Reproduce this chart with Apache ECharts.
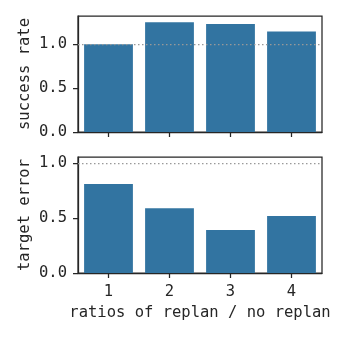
<!DOCTYPE html>
<html>
<head>
<meta charset="utf-8">
<script src="https://cdn.jsdelivr.net/npm/echarts@6/dist/echarts.min.js"></script>
<style>
  html, body { margin: 0; padding: 0; background: #fff; }
  #chart { width: 339px; height: 339px; }
</style>
</head>
<body>
<div id="chart"></div>
<script>
// 数据
const categories = ['1', '2', '3', '4']
const successRate = [0.995, 1.243, 1.224, 1.14]
const targetError = [0.81, 0.59, 0.39, 0.518]
const yTicks = [0, 0.5, 1.0]
const refLine = 1.0

const textColor = '#262626'
const barColor = '#3274a1'
const font = 'DejaVu Sans Mono'
const fontSize = 15.5

const chart = echarts.init(document.getElementById('chart'))

// 通用的 x 轴
const makeXAxis = (gridIndex, showLabel, name) => ({
  type: 'category',
  gridIndex,
  data: categories,
  name,
  nameLocation: 'middle',
  nameGap: 32,
  nameMoveOverlap: false,
  nameTextStyle: { color: textColor, fontFamily: font, fontSize },
  axisLine: { show: true, lineStyle: { color: textColor, width: 1.25 } },
  axisTick: { show: true, inside: false, alignWithLabel: true, length: 5, lineStyle: { color: textColor, width: 1.25 } },
  axisLabel: { show: showLabel, color: textColor, fontFamily: font, fontSize, margin: 11 }
})

// 通用的 y 轴
const makeYAxis = (gridIndex, max, name) => ({
  type: 'value',
  gridIndex,
  min: 0,
  max,
  interval: 0.5,
  name,
  nameLocation: 'middle',
  nameGap: 45,
  nameMoveOverlap: false,
  nameTextStyle: { color: textColor, fontFamily: font, fontSize },
  axisLine: { show: true, lineStyle: { color: textColor, width: 1.25 } },
  axisTick: { show: true, inside: false, length: 5, customValues: yTicks, lineStyle: { color: textColor, width: 1.25 } },
  axisLabel: {
    color: textColor, fontFamily: font, fontSize, margin: 11,
    customValues: yTicks,
    formatter: (v) => v.toFixed(1)
  },
  splitLine: { show: false }
})

const makeSeries = (index, data) => ({
  type: 'bar',
  xAxisIndex: index,
  yAxisIndex: index,
  data,
  barCategoryGap: '20%',
  itemStyle: { color: barColor },
  markLine: {
    silent: true,
    symbol: 'none',
    label: { show: false },
    lineStyle: { color: '#999', type: [1.5, 2.5], width: 1.25 },
    data: [{ yAxis: refLine }]
  }
})

const option = {
  animation: false,
  grid: [
    { left: 78, right: 17, top: 16, height: 116, show: true, borderColor: textColor, borderWidth: 1.25 },
    { left: 78, right: 17, top: 157, height: 116, show: true, borderColor: textColor, borderWidth: 1.25 }
  ],
  xAxis: [
    makeXAxis(0, false, ''),
    makeXAxis(1, true, 'ratios of replan / no replan')
  ],
  yAxis: [
    makeYAxis(0, 1.315, 'success rate'),
    makeYAxis(1, 1.055, 'target error')
  ],
  series: [
    makeSeries(0, successRate),
    makeSeries(1, targetError)
  ]
}

chart.setOption(option)
</script>
</body>
</html>
